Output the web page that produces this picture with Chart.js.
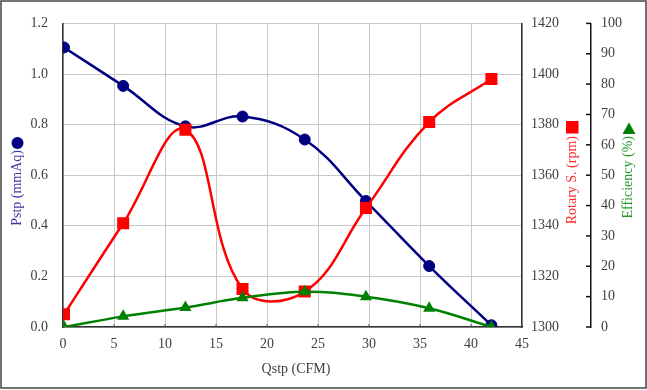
<!DOCTYPE html>
<html><head><meta charset="utf-8">
<script src="https://cdn.jsdelivr.net/npm/chart.js@4"></script>
<style>html,body{margin:0;padding:0;background:#fff}canvas{display:block}</style>
</head><body>
<canvas id="c" width="647" height="390"></canvas>
<script>
// ---- data ----
const qstp = [0.1, 5.9, 12.0, 17.6, 23.7, 29.7, 35.9, 42.0];       // Qstp (CFM)
const pstp = [1.105, 0.953, 0.793, 0.832, 0.741, 0.498, 0.241, 0.007]; // Pstp (mmAq)
const rpm  = [1305, 1341, 1378, 1315, 1314, 1347, 1381, 1398];      // Rotary S. (rpm)
const eff  = [0, 3.5, 6.4, 9.6, 11.6, 10.0, 6.2, 0];                 // Efficiency (%)

const xAxisRange   = [0, 45, 5];
const pAxisRange   = [0, 1.2, 0.2];
const rpmAxisRange = [1300, 1420, 20];
const effAxisRange = [0, 100, 10];

const xTitle = 'Qstp (CFM)';
const pTitle = 'Pstp (mmAq)';
const rpmTitle = 'Rotary S. (rpm)';
const effTitle = 'Efficiency (%)';

const FONT = "'Liberation Serif','Times New Roman',serif";
Chart.defaults.font.family = FONT;
Chart.defaults.font.size = 14;
Chart.defaults.color = '#404040';

const pts = ys => qstp.map((x, i) => ({x: x, y: ys[i]}));

const decor = {
  id: 'decor',
  afterDraw(chart) {
    const ctx = chart.ctx;
    const sx = chart.scales.x, s2 = chart.scales.y2;
    ctx.save();
    // inward ticks on efficiency axis
    ctx.strokeStyle = '#111'; ctx.lineWidth = 1.5;
    s2.ticks.forEach(t => {
      const py = s2.getPixelForValue(t.value);
      ctx.beginPath(); ctx.moveTo(s2.left - 5, py); ctx.lineTo(s2.left, py); ctx.stroke();
    });
    // small inward ticks on x axis
    ctx.strokeStyle = '#555'; ctx.lineWidth = 1;
    sx.ticks.forEach(t => {
      const px = sx.getPixelForValue(t.value);
      ctx.beginPath(); ctx.moveTo(px, sx.top - 3); ctx.lineTo(px, sx.top); ctx.stroke();
    });
    // titles
    ctx.font = '14px ' + FONT;
    ctx.textBaseline = 'middle';
    ctx.textAlign = 'center';
    ctx.fillStyle = '#404040';
    ctx.fillText(xTitle, 296, 369);
    const vtext = (cx, topY, text, color) => {
      ctx.save();
      ctx.translate(cx, topY);
      ctx.rotate(-Math.PI / 2);
      ctx.textAlign = 'right';
      ctx.textBaseline = 'middle';
      ctx.fillStyle = color;
      ctx.fillText(text, 0, 0);
      ctx.restore();
    };
    vtext(17.5, 150, pTitle, '#3a3aa6');
    vtext(572, 136, rpmTitle, '#ff3030');
    vtext(628, 136, effTitle, '#2a9a2a');
    // markers next to titles
    ctx.fillStyle = '#000080';
    ctx.beginPath(); ctx.arc(17.5, 143, 6, 0, Math.PI * 2); ctx.fill();
    ctx.fillStyle = '#ff0000';
    ctx.fillRect(566, 121, 12.5, 12.5);
    ctx.fillStyle = '#008000';
    ctx.beginPath(); ctx.moveTo(629, 122.5); ctx.lineTo(635.5, 134); ctx.lineTo(622.5, 134); ctx.closePath(); ctx.fill();
    // outer frame
    ctx.strokeStyle = '#444'; ctx.lineWidth = 1.5;
    ctx.strokeRect(1, 1, 645, 387);
    ctx.restore();
  }
};

new Chart(document.getElementById('c'), {
  type: 'line',
  data: {
    datasets: [
      {label: pTitle, data: pts(pstp), yAxisID: 'y', borderColor: '#000080', backgroundColor: '#000080',
       pointStyle: 'circle', pointRadius: 5.5, pointBorderWidth: 1, borderWidth: 2.5, tension: 0.4, order: 3},
      {label: rpmTitle, data: pts(rpm), yAxisID: 'y1', borderColor: '#ff0000', backgroundColor: '#ff0000',
       pointStyle: 'rect', pointRadius: 8.5, pointBorderWidth: 0, borderWidth: 2.5, tension: 0.4, order: 2},
      {label: effTitle, data: pts(eff), yAxisID: 'y2', borderColor: '#008000', backgroundColor: '#008000',
       pointStyle: 'triangle', pointRadius: 7, pointBorderWidth: 0, borderWidth: 2.5, tension: 0.4, order: 1}
    ]
  },
  options: {
    responsive: false,
    animation: false,
    devicePixelRatio: 1,
    layout: {padding: {top: 19, left: 0, right: 0, bottom: 0}},
    plugins: {legend: {display: false}, tooltip: {enabled: false}},
    scales: {
      x: {
        type: 'linear', min: xAxisRange[0], max: xAxisRange[1],
        ticks: {stepSize: xAxisRange[2], padding: 9},
        grid: {color: '#c8c8c8', drawTicks: false},
        border: {color: '#333', width: 1.5},
        afterFit: s => { s.height = 63; }
      },
      y: {
        position: 'left', min: pAxisRange[0], max: pAxisRange[1],
        ticks: {stepSize: pAxisRange[2], padding: 15, callback: v => Number(v).toFixed(1)},
        grid: {color: '#c8c8c8', drawTicks: false},
        border: {color: '#333', width: 1.5},
        afterFit: s => { s.width = 63; }
      },
      y1: {
        position: 'right', weight: 1, min: rpmAxisRange[0], max: rpmAxisRange[1],
        ticks: {stepSize: rpmAxisRange[2], padding: 9, callback: v => String(v)},
        grid: {drawOnChartArea: false, drawTicks: false},
        border: {color: '#333', width: 1.5},
        afterFit: s => { s.width = 69; }
      },
      y2: {
        position: 'right', weight: 2, min: effAxisRange[0], max: effAxisRange[1],
        ticks: {stepSize: effAxisRange[2], padding: 10, callback: v => String(v)},
        grid: {drawOnChartArea: false, drawTicks: false},
        border: {color: '#111', width: 1.5},
        afterFit: s => { s.width = 56; }
      }
    }
  },
  plugins: [decor]
});
</script>
</body></html>
